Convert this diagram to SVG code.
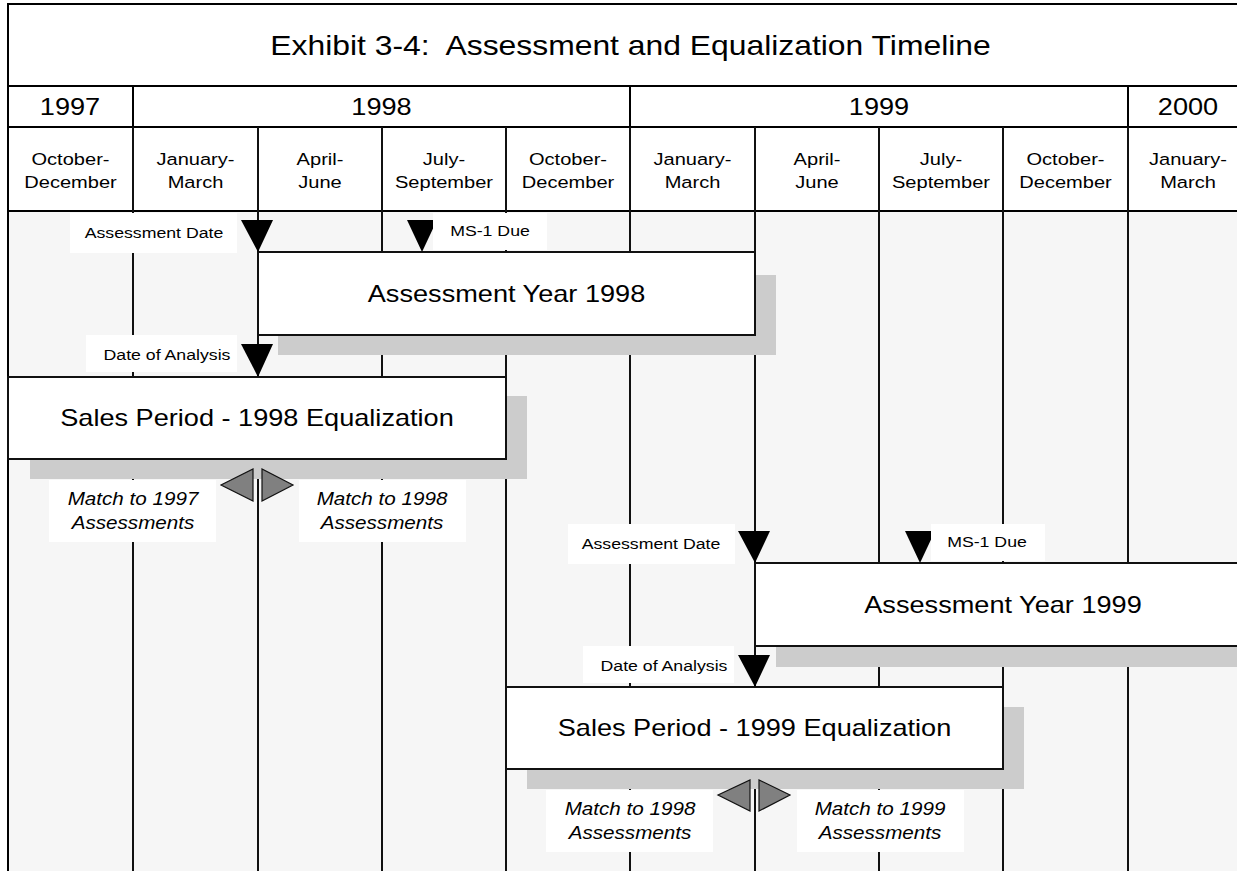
<svg xmlns="http://www.w3.org/2000/svg" width="1237" height="871" viewBox="0 0 1237 871">
  <style>
    .t { font-family: "Liberation Sans", Arial, Helvetica, sans-serif; fill: #000; text-anchor: middle; }
    .title { font-size: 27px; }
    .yr { font-size: 23px; }
    .mo { font-size: 17px; }
    .box { font-size: 23px; }
    .lbl { font-size: 15px; }
    .match { font-size: 17.5px; font-style: italic; }
    .ln { stroke: #000; stroke-width: 2; fill: none; }
    .grid { stroke: #111; stroke-width: 2; }
    .shadow { fill: #cccccc; }
    .node { fill: #fff; stroke: #111; stroke-width: 2; }
    .lblbg { fill: #fff; }
    .down { fill: #000; }
    .side { fill: #808080; stroke: #111; stroke-width: 1.2; }
  </style>

  <rect x="0" y="0" width="1237" height="871" fill="#fff"/>
  <rect x="8" y="211" width="1240" height="660" fill="#f6f6f6"/>

  <!-- header table -->
  <g id="header">
    <line class="ln" x1="8" y1="4" x2="1240" y2="4"/>
    <line class="ln" x1="8" y1="86" x2="1240" y2="86"/>
    <line class="ln" x1="8" y1="127" x2="1240" y2="127"/>
    <line class="ln" x1="8" y1="211" x2="1240" y2="211"/>
    <line class="ln" x1="8" y1="3" x2="8" y2="871"/>
    <line class="ln" x1="133" y1="86" x2="133" y2="127"/>
    <line class="ln" x1="630" y1="86" x2="630" y2="127"/>
    <line class="ln" x1="1128" y1="86" x2="1128" y2="127"/>
    <text class="t title" transform="translate(630.5 0) scale(1.18 1)" x="0" y="55.5">Exhibit 3-4:&#160; Assessment and Equalization Timeline</text>
    <text class="t yr" transform="translate(70 0) scale(1.18 1)" x="0" y="115">1997</text>
    <text class="t yr" transform="translate(381.5 0) scale(1.18 1)" x="0" y="115">1998</text>
    <text class="t yr" transform="translate(879 0) scale(1.18 1)" x="0" y="115">1999</text>
    <text class="t yr" transform="translate(1188 0) scale(1.18 1)" x="0" y="115">2000</text>
    <g class="t mo">
      <text transform="translate(70.5 0) scale(1.18 1)" x="0" y="165">October-</text>
      <text transform="translate(70.5 0) scale(1.18 1)" x="0" y="188">December</text>
      <text transform="translate(195.5 0) scale(1.18 1)" x="0" y="165">January-</text>
      <text transform="translate(195.5 0) scale(1.18 1)" x="0" y="188">March</text>
      <text transform="translate(320 0) scale(1.18 1)" x="0" y="165">April-</text>
      <text transform="translate(320 0) scale(1.18 1)" x="0" y="188">June</text>
      <text transform="translate(444 0) scale(1.18 1)" x="0" y="165">July-</text>
      <text transform="translate(444 0) scale(1.18 1)" x="0" y="188">September</text>
      <text transform="translate(568 0) scale(1.18 1)" x="0" y="165">October-</text>
      <text transform="translate(568 0) scale(1.18 1)" x="0" y="188">December</text>
      <text transform="translate(692.5 0) scale(1.18 1)" x="0" y="165">January-</text>
      <text transform="translate(692.5 0) scale(1.18 1)" x="0" y="188">March</text>
      <text transform="translate(817 0) scale(1.18 1)" x="0" y="165">April-</text>
      <text transform="translate(817 0) scale(1.18 1)" x="0" y="188">June</text>
      <text transform="translate(941 0) scale(1.18 1)" x="0" y="165">July-</text>
      <text transform="translate(941 0) scale(1.18 1)" x="0" y="188">September</text>
      <text transform="translate(1065.5 0) scale(1.18 1)" x="0" y="165">October-</text>
      <text transform="translate(1065.5 0) scale(1.18 1)" x="0" y="188">December</text>
      <text transform="translate(1188 0) scale(1.18 1)" x="0" y="165">January-</text>
      <text transform="translate(1188 0) scale(1.18 1)" x="0" y="188">March</text>
    </g>
  </g>

  <!-- quarter grid lines -->
  <g id="grid" class="grid">
    <line x1="133" y1="127" x2="133" y2="871"/>
    <line x1="258" y1="127" x2="258" y2="871"/>
    <line x1="382" y1="127" x2="382" y2="871"/>
    <line x1="506" y1="127" x2="506" y2="871"/>
    <line x1="630" y1="127" x2="630" y2="871"/>
    <line x1="755" y1="127" x2="755" y2="871"/>
    <line x1="879" y1="127" x2="879" y2="871"/>
    <line x1="1003" y1="127" x2="1003" y2="871"/>
    <line x1="1128" y1="127" x2="1128" y2="871"/>
  </g>

  <!-- 1998 cycle -->
  <g id="assessment-year-1998">
    <rect class="shadow" x="278" y="275" width="498" height="80"/>
    <rect class="node" x="258" y="252" width="497" height="83"/>
    <text class="t box" transform="translate(506.5 0) scale(1.18 1)" x="0" y="302">Assessment Year 1998</text>
  </g>
  <g id="sales-period-1998">
    <rect class="shadow" x="30" y="396" width="497" height="83"/>
    <rect class="node" x="8" y="377" width="498" height="82"/>
    <text class="t box" transform="translate(257 0) scale(1.18 1)" x="0" y="426">Sales Period - 1998 Equalization</text>
  </g>

  <!-- 1999 cycle -->
  <g id="assessment-year-1999">
    <rect class="shadow" x="776" y="586" width="500" height="81"/>
    <rect class="node" x="755" y="563" width="500" height="83"/>
    <text class="t box" transform="translate(1003 0) scale(1.18 1)" x="0" y="613">Assessment Year 1999</text>
  </g>
  <g id="sales-period-1999">
    <rect class="shadow" x="527" y="707" width="497" height="82"/>
    <rect class="node" x="506" y="687" width="497" height="82"/>
    <text class="t box" transform="translate(754.5 0) scale(1.18 1)" x="0" y="736">Sales Period - 1999 Equalization</text>
  </g>

  <!-- marker triangles -->
  <g id="connectors">
    <polygon class="down" points="241,220 273,220 258,252"/>
    <polygon class="down" points="407,220 437,220 422,252"/>
    <polygon class="down" points="241,344 273,344 258,377"/>
    <polygon class="side" points="253,469 253,501 221,485"/>
    <polygon class="side" points="262,469 262,501 293,485"/>

    <polygon class="down" points="738,531 770,531 755,563"/>
    <polygon class="down" points="905,531 935,531 920,563"/>
    <polygon class="down" points="738,655 770,655 755,687"/>
    <polygon class="side" points="750,780 750,811 718,795"/>
    <polygon class="side" points="759,780 759,811 790,795"/>
  </g>

  <!-- labels 1998 -->
  <g id="label-assessment-date-1998">
    <rect class="lblbg" x="70" y="213" width="167" height="40"/>
    <text class="t lbl" transform="translate(154 0) scale(1.18 1)" x="0" y="238">Assessment Date</text>
  </g>
  <g id="label-ms1-due-1998">
    <rect class="lblbg" x="433" y="213" width="114" height="37"/>
    <text class="t lbl" transform="translate(490 0) scale(1.18 1)" x="0" y="236">MS-1 Due</text>
  </g>
  <g id="label-date-of-analysis-1998">
    <rect class="lblbg" x="86" y="335" width="151" height="37"/>
    <text class="t lbl" transform="translate(167 0) scale(1.18 1)" x="0" y="360">Date of Analysis</text>
  </g>
  <g id="label-match-1997">
    <rect class="lblbg" x="49" y="480" width="167" height="62"/>
    <text class="t match" transform="translate(133 0) scale(1.18 1)" x="0" y="505">Match to 1997</text>
    <text class="t match" transform="translate(133 0) scale(1.18 1)" x="0" y="529">Assessments</text>
  </g>
  <g id="label-match-1998a">
    <rect class="lblbg" x="299" y="480" width="167" height="62"/>
    <text class="t match" transform="translate(382 0) scale(1.18 1)" x="0" y="505">Match to 1998</text>
    <text class="t match" transform="translate(382 0) scale(1.18 1)" x="0" y="529">Assessments</text>
  </g>

  <!-- labels 1999 -->
  <g id="label-assessment-date-1999">
    <rect class="lblbg" x="568" y="524" width="167" height="40"/>
    <text class="t lbl" transform="translate(651 0) scale(1.18 1)" x="0" y="549">Assessment Date</text>
  </g>
  <g id="label-ms1-due-1999">
    <rect class="lblbg" x="931" y="524" width="114" height="37"/>
    <text class="t lbl" transform="translate(987 0) scale(1.18 1)" x="0" y="547">MS-1 Due</text>
  </g>
  <g id="label-date-of-analysis-1999">
    <rect class="lblbg" x="583" y="646" width="151" height="37"/>
    <text class="t lbl" transform="translate(664 0) scale(1.18 1)" x="0" y="671">Date of Analysis</text>
  </g>
  <g id="label-match-1998b">
    <rect class="lblbg" x="546" y="790" width="167" height="62"/>
    <text class="t match" transform="translate(630 0) scale(1.18 1)" x="0" y="815">Match to 1998</text>
    <text class="t match" transform="translate(630 0) scale(1.18 1)" x="0" y="839">Assessments</text>
  </g>
  <g id="label-match-1999">
    <rect class="lblbg" x="797" y="790" width="167" height="62"/>
    <text class="t match" transform="translate(880 0) scale(1.18 1)" x="0" y="815">Match to 1999</text>
    <text class="t match" transform="translate(880 0) scale(1.18 1)" x="0" y="839">Assessments</text>
  </g>
</svg>
